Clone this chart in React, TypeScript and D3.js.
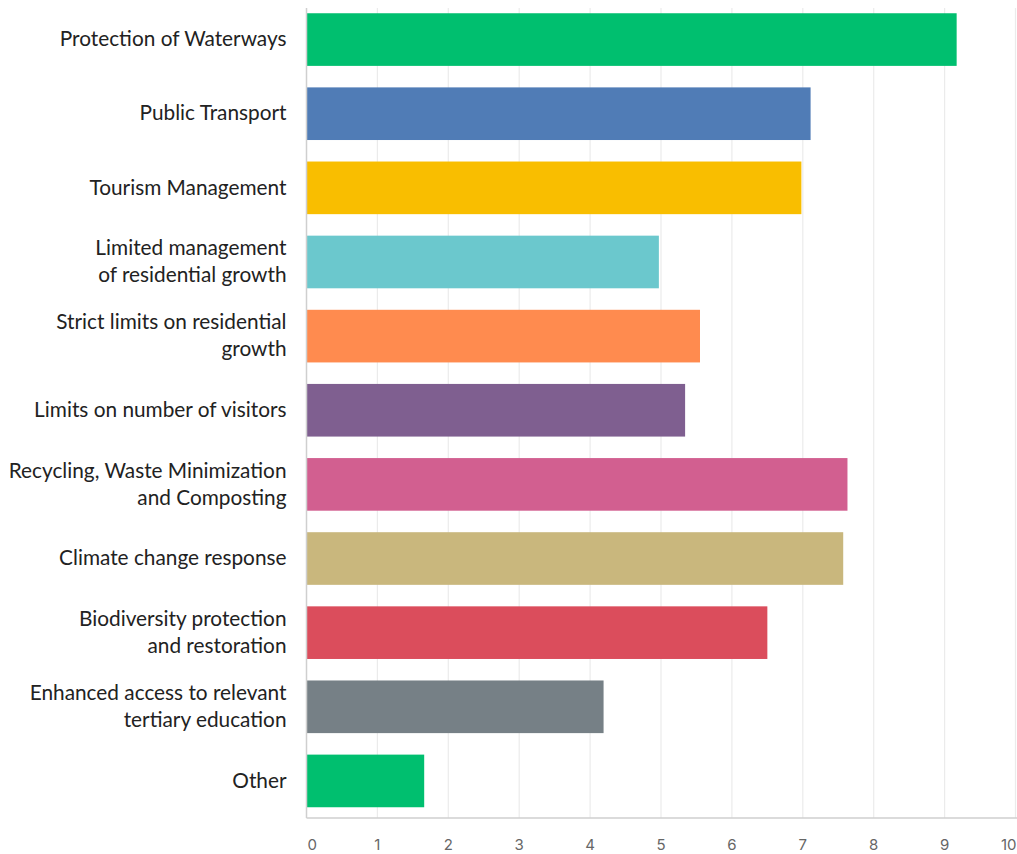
import React from "react";
import * as d3 from "d3";

const categories: string[][] = [
  ["Protection of Waterways"],
  ["Public Transport"],
  ["Tourism Management"],
  ["Limited management", "of residential growth"],
  ["Strict limits on residential", "growth"],
  ["Limits on number of visitors"],
  ["Recycling, Waste Minimization", "and Composting"],
  ["Climate change response"],
  ["Biodiversity protection", "and restoration"],
  ["Enhanced access to relevant", "tertiary education"],
  ["Other"],
];

const values: number[] = [9.17, 7.11, 6.98, 4.97, 5.55, 5.34, 7.63, 7.57, 6.5, 4.19, 1.66];

const colors: string[] = [
  "#00BF6F",
  "#507CB6",
  "#F9BE00",
  "#6BC8CD",
  "#FF8B4F",
  "#7F5F90",
  "#D25F90",
  "#C9B77D",
  "#DB4D5C",
  "#768086",
  "#00BF6F",
];

const xTicks: number[] = [0, 1, 2, 3, 4, 5, 6, 7, 8, 9, 10];

const W = 1017;
const H = 854;

export default function App() {
  const x = d3.scaleLinear().domain([0, 10]).range([306.5, 1015.5]);
  const ids = categories.map((_, i) => String(i));
  const y = d3
    .scaleBand<string>()
    .domain(ids)
    .range([2.5, 818])
    .paddingInner(0.29)
    .paddingOuter(0.145);

  const plotTop = 8;
  const plotBottom = 818;
  const labelFont = "Lato, 'Open Sans', sans-serif";
  const tickFont = "Inter, Roboto, sans-serif";

  return (
    <svg
      width={W}
      height={H}
      style={{ position: "absolute", left: 0, top: 0, background: "#fff" }}
    >
      {xTicks.slice(1).map((t) => (
        <line
          key={"g" + t}
          x1={x(t)}
          x2={x(t)}
          y1={plotTop}
          y2={plotBottom}
          stroke="#ebebeb"
          strokeWidth={1.2}
        />
      ))}
      {values.map((v, i) => (
        <rect
          key={"b" + i}
          x={x(0)}
          y={y(String(i))}
          width={x(v) - x(0)}
          height={y.bandwidth()}
          fill={colors[i]}
        />
      ))}
      <line x1={x(0)} x2={x(0)} y1={plotTop} y2={plotBottom} stroke="#cfcfcf" strokeWidth={1.5} />
      <line x1={x(0)} x2={W} y1={plotBottom} y2={plotBottom} stroke="#cfcfcf" strokeWidth={1.5} />
      {xTicks.map((t, i) => (
        <text
          key={"t" + t}
          x={i === 0 ? x(t) + 1 : i === xTicks.length - 1 ? W - 0.5 : x(t)}
          y={845}
          dy="0.35em"
          textAnchor={i === 0 ? "start" : i === xTicks.length - 1 ? "end" : "middle"}
          fontFamily={tickFont}
          fontSize={15}
          fill="#666"
        >
          {t}
        </text>
      ))}
      {categories.map((lines, i) => {
        const cy = (y(String(i)) as number) + y.bandwidth() / 2 - 0.5;
        const lh = 27;
        const start = cy - ((lines.length - 1) * lh) / 2;
        return (
          <text
            key={"l" + i}
            textAnchor="end"
            fontFamily={labelFont}
            fontSize={20.8}
            fill="#222"
          >
            {lines.map((ln, j) => (
              <tspan key={j} x={286.5} y={start + j * lh} dy="0.35em">
                {ln}
              </tspan>
            ))}
          </text>
        );
      })}
    </svg>
  );
}
